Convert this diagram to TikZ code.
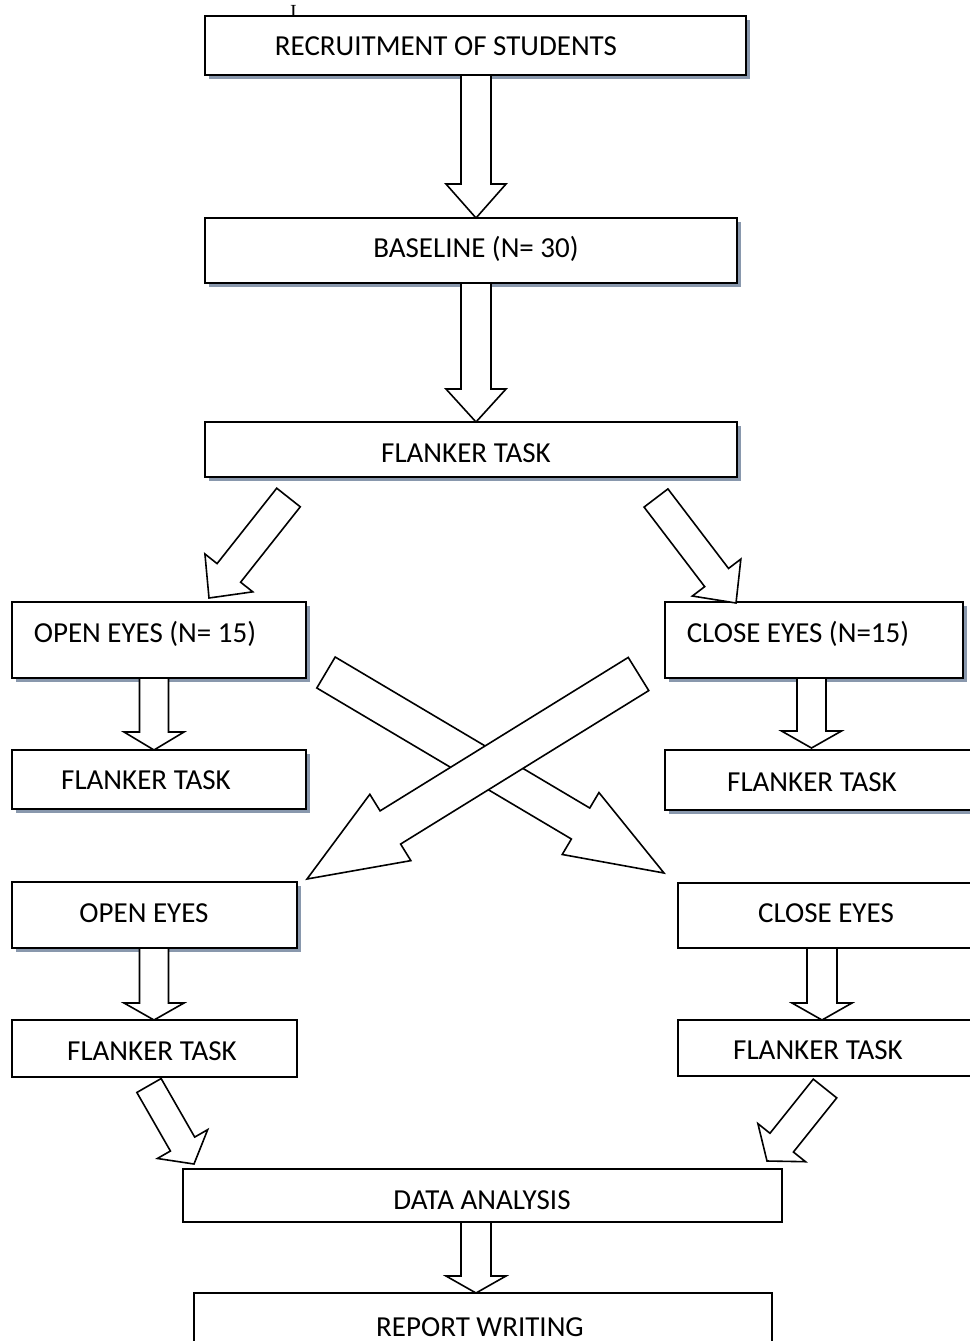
\documentclass[tikz,border=0pt]{standalone}
\usepackage{fontspec}
\setmainfont{Carlito}
\newfontfamily\serifglyph{Liberation Serif}
\usetikzlibrary{calc,shadows}
\definecolor{shadowgrey}{RGB}{137,152,173}

\tikzset{
    box/.style={rectangle,draw=black,fill=white,inner sep=0pt,outer sep=0pt},
    shadowbox/.style={box,line width=2pt,
        drop shadow={shadow xshift=3.5pt,shadow yshift=-3.5pt,fill=shadowgrey,opacity=1}},
    plainbox/.style={box,line width=1.4pt},
    txt/.style={anchor=base,inner sep=0pt,font=\fontsize{29}{34}\selectfont},
    hollow/.style={draw=black,fill=white,line width=1.6pt,line join=miter}
}

% hollow block arrow: tail, tip, shaft half width, head half width, head length
\newcommand{\fatarrow}[5]{%
    \path ($(#2)!#5!(#1)$) coordinate (hb);
    \draw[hollow] ($(#1)!#3!90:(#2)$) -- ($(hb)!#3!90:(#2)$) -- ($(hb)!#4!90:(#2)$)
        -- (#2) -- ($(hb)!#4!-90:(#2)$) -- ($(hb)!#3!-90:(#2)$) -- ($(#1)!#3!-90:(#2)$) -- cycle;}

\begin{document}
\begin{tikzpicture}[x=1pt,y=-1pt]
        \useasboundingbox (0,0) rectangle (969,1341);

        \node[anchor=base,inner sep=0pt,font=\serifglyph\fontsize{20}{20}\selectfont] (caret) at (293.5,19) {I};

        \begin{scope}[every node/.style={shadowbox}]
            \node[minimum width=541pt,minimum height=59pt] (recruit) at (475.5,45.5) {};
            \node[minimum width=532pt,minimum height=65pt] (baseline) at (471,250.5) {};
            \node[minimum width=532pt,minimum height=55pt] (flankA) at (471,449.5) {};
            \node[minimum width=294pt,minimum height=76pt] (openA) at (159,640) {};
            \node[minimum width=298pt,minimum height=76pt] (closeA) at (814,640) {};
            \node[minimum width=294pt,minimum height=59pt] (flankOL) at (159,779.5) {};
            \node[minimum width=310pt,minimum height=60pt] (flankCL) at (820,780) {};
            \node[minimum width=285pt,minimum height=66pt] (openB) at (154.5,915) {};
        \end{scope}

        \begin{scope}[every node/.style={plainbox}]
            \node[minimum width=297pt,minimum height=65pt] (closeB) at (826.5,915.5) {};
            \node[minimum width=285pt,minimum height=57pt] (flankOB) at (154.5,1048.5) {};
            \node[minimum width=297pt,minimum height=56pt] (flankCB) at (826.5,1048) {};
            \node[minimum width=599pt,minimum height=53pt] (data) at (482.5,1195.5) {};
            \node[minimum width=578pt,minimum height=87pt] (report) at (483,1336.5) {};
        \end{scope}

        \begin{scope}[every node/.style={txt}]
            \node (recruitT) at (446,55.3) {RECRUITMENT OF STUDENTS};
            \node (baselineT) at (476,257.3) {BASELINE (N= 30)};
            \node (flankAT) at (466,462.3) {FLANKER TASK};
            \node (openAT) at (145,642.3) {OPEN EYES (N= 15)};
            \node (closeAT) at (798,642.3) {CLOSE EYES (N=15)};
            \node (flankOLT) at (146,789.3) {FLANKER TASK};
            \node (flankCLT) at (812,791.3) {FLANKER TASK};
            \node (openBT) at (144,922.3) {OPEN EYES};
            \node (closeBT) at (826,922.3) {CLOSE EYES};
            \node (flankOBT) at (152,1060.3) {FLANKER TASK};
            \node (flankCBT) at (818,1059.3) {FLANKER TASK};
            \node (dataT) at (482,1209.3) {DATA ANALYSIS};
            \node (reportT) at (480,1336) {REPORT WRITING};
        \end{scope}

        \coordinate (r1) at ([xshift=0.5pt]recruit.south);
        \coordinate (b1) at (r1 |- baseline.north);
        \coordinate (b2) at (r1 |- baseline.south);
        \coordinate (f1) at (r1 |- flankA.north);
        \coordinate (fl1) at (288.5,497.5);
        \coordinate (fl2) at (209,598);
        \coordinate (fr1) at (656,498);
        \coordinate (fr2) at (736,603);
        \coordinate (oa1) at ([xshift=-5pt]openA.south);
        \coordinate (oa2) at (oa1 |- flankOL.north);
        \coordinate (ca1) at ([xshift=-2.5pt]closeA.south);
        \coordinate (ca2) at ([yshift=2pt]ca1 |- flankCL.north);
        \coordinate (ob1) at ([xshift=-0.5pt]openB.south);
        \coordinate (ob2) at (ob1 |- flankOB.north);
        \coordinate (cb1) at ([xshift=-4.5pt]closeB.south);
        \coordinate (cb2) at (cb1 |- flankCB.north);
        \coordinate (xa1) at (326,672.5);
        \coordinate (xa2) at (664,873);
        \coordinate (xb1) at (638.5,674);
        \coordinate (xb2) at (307,879);
        \coordinate (dl1) at (149,1085.5);
        \coordinate (dl2) at (194,1164);
        \coordinate (dr1) at (825,1088.5);
        \coordinate (dr2) at (767,1161);
        \coordinate (d1) at ([xshift=-6.5pt]data.south);
        \coordinate (d2) at (d1 |- report.north);

        \fatarrow{r1}{b1}{15pt}{30pt}{34pt}
        \fatarrow{b2}{f1}{15pt}{30pt}{33pt}
        \fatarrow{fl1}{fl2}{15pt}{30.5pt}{32pt}
        \fatarrow{fr1}{fr2}{15pt}{30.5pt}{32pt}
        \fatarrow{oa1}{oa2}{14.5pt}{30pt}{18pt}
        \fatarrow{ca1}{ca2}{14.5pt}{30pt}{17pt}
        \fatarrow{ob1}{ob2}{14.5pt}{30pt}{17pt}
        \fatarrow{cb1}{cb2}{15pt}{30pt}{17pt}
        \fatarrow{xa1}{xa2}{18pt}{36pt}{97pt}
        \fatarrow{xb1}{xb2}{19.5pt}{39pt}{98pt}
        \fatarrow{dl1}{dl2}{14pt}{29pt}{23pt}
        \fatarrow{dr1}{dr2}{15pt}{30.5pt}{23.5pt}
        \fatarrow{d1}{d2}{15pt}{30pt}{17pt}
    \end{tikzpicture}
\end{document}
